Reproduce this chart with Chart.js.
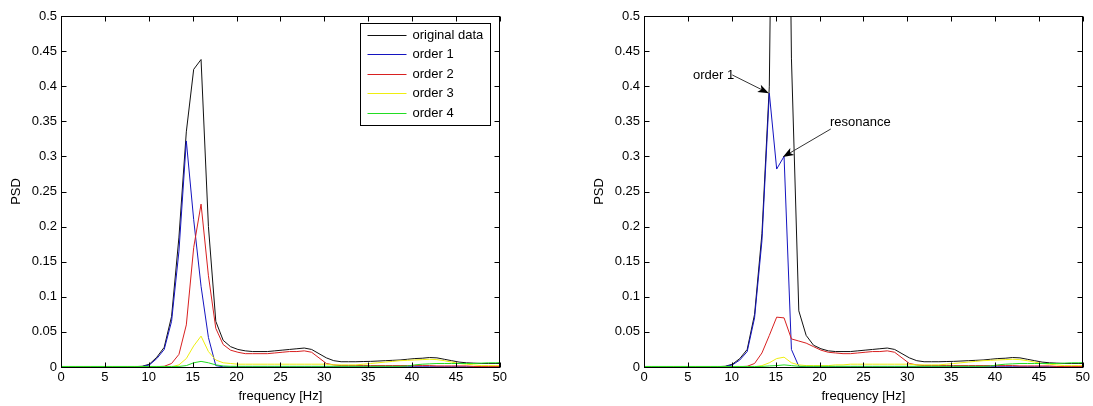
<!DOCTYPE html>
<html><head><meta charset="utf-8">
<script src="https://cdn.jsdelivr.net/npm/chart.js@4.4.1/dist/chart.umd.min.js"></script>
<style>
html,body{margin:0;padding:0;background:#fff;}
body{width:1093px;height:406px;position:relative;overflow:hidden;}
.wrap{position:absolute;top:0;width:510px;height:406px;}
#w1{left:0px}
#w2{left:583px}
</style></head><body>
<div class="wrap" id="w1"><canvas id="c1" width="510" height="406"></canvas></div>
<div class="wrap" id="w2"><canvas id="c2" width="510" height="406"></canvas></div>
<script>
// ---------- data ----------
const frequency = [0,0.84,1.68,2.52,3.36,4.2,5.04,5.88,6.72,7.56,8.4,
  9.24,10.08,10.92,11.76,12.6,13.44,14.28,15.12,15.96,16.8,
  17.64,18.48,19.32,20.16,21.0,21.84,22.68,23.52,24.36,25.2,
  26.04,26.88,27.72,28.56,29.4,30.24,31.08,31.92,32.76,33.6,
  34.44,35.28,36.12,36.96,37.8,38.64,39.48,40.32,41.16,42.0,
  42.84,43.68,44.52,45.36,46.2,47.04,47.88,48.72,49.56,50.4];

const xTickLabels = ['0','5','10','15','20','25','30','35','40','45','50'];
const yTickLabels = ['0','0.05','0.1','0.15','0.2','0.25','0.3','0.35','0.4','0.45','0.5'];
const seriesNames = ['original data','order 1','order 2','order 3','order 4'];

// left panel
const leftOriginal = [0.0005,0.0005,0.0005,0.0005,0.0005,0.0005,0.0005,0.0005,0.0005,0.0005,0.0005,
  0.001,0.004,0.014,0.028,0.072,0.185,0.335,0.424,0.438,0.2,
  0.065,0.038,0.029,0.025,0.023,0.022,0.022,0.022,0.023,0.024,
  0.025,0.026,0.027,0.025,0.019,0.013,0.009,0.0075,0.0075,0.0075,
  0.0078,0.008,0.0085,0.009,0.0095,0.010,0.011,0.012,0.0125,0.0135,
  0.013,0.011,0.009,0.007,0.006,0.0055,0.005,0.005,0.005,0.005];
const leftOrder1 = [0.0003,0.0003,0.0003,0.0003,0.0003,0.0003,0.0003,0.0003,0.0003,0.0003,0.0003,
  0.0005,0.003,0.012,0.025,0.065,0.165,0.322,0.21,0.115,0.042,
  0.002,0.0003,0.0003,0.0003,0.0003,0.0003,0.0003,0.0003,0.0003,0.0003,
  0.0003,0.0003,0.0003,0.0003,0.0003,0.0003,0.0003,0.0003,0.0003,0.0003,
  0.0003,0.0003,0.0003,0.0003,0.0003,0.0003,0.0003,0.0003,0.0003,0.0003,
  0.0003,0.0003,0.0003,0.0003,0.0003,0.0003,0.0003,0.0003,0.0003,0.0003];
const leftOrder2 = [0.0003,0.0003,0.0003,0.0003,0.0003,0.0003,0.0003,0.0003,0.0003,0.0003,0.0003,
  0.0003,0.0003,0.0005,0.001,0.005,0.018,0.06,0.17,0.232,0.13,
  0.055,0.032,0.024,0.021,0.019,0.019,0.019,0.019,0.02,0.021,
  0.022,0.022,0.023,0.021,0.013,0.005,0.003,0.002,0.002,0.002,
  0.002,0.002,0.002,0.002,0.002,0.002,0.002,0.002,0.002,0.002,
  0.0015,0.0015,0.0015,0.0015,0.0015,0.0008,0.0008,0.0008,0.0008,0.0008];
const leftOrder3 = [0.0003,0.0003,0.0003,0.0003,0.0003,0.0003,0.0003,0.0003,0.0003,0.0003,0.0003,
  0.0003,0.0003,0.0003,0.0003,0.0003,0.003,0.012,0.03,0.044,0.022,
  0.01,0.006,0.005,0.004,0.004,0.004,0.004,0.004,0.004,0.004,
  0.004,0.004,0.004,0.004,0.004,0.004,0.003,0.003,0.003,0.003,
  0.004,0.005,0.006,0.007,0.008,0.009,0.0095,0.010,0.0105,0.011,
  0.0105,0.009,0.007,0.005,0.004,0.003,0.002,0.002,0.002,0.002];
const leftOrder4 = [0.0008,0.0008,0.0008,0.0008,0.0008,0.0008,0.0008,0.0008,0.0008,0.0008,0.0008,
  0.0008,0.0008,0.0008,0.0008,0.0008,0.0008,0.002,0.006,0.008,0.006,
  0.003,0.0015,0.001,0.001,0.001,0.001,0.001,0.001,0.001,0.001,
  0.001,0.001,0.001,0.001,0.001,0.001,0.001,0.001,0.001,0.001,
  0.001,0.001,0.001,0.001,0.001,0.001,0.0015,0.003,0.004,0.0045,
  0.005,0.005,0.005,0.005,0.005,0.005,0.0055,0.006,0.006,0.0065];

// right panel
const rightOriginal = [0.0005,0.0005,0.0005,0.0005,0.0005,0.0005,0.0005,0.0005,0.0005,0.0005,0.0005,
  0.001,0.004,0.012,0.025,0.075,0.19,0.40,1.3,1.4,0.44,
  0.08,0.045,0.031,0.026,0.023,0.022,0.022,0.022,0.023,0.024,
  0.025,0.026,0.027,0.025,0.019,0.013,0.009,0.0075,0.0075,0.0075,
  0.0078,0.008,0.0085,0.009,0.0095,0.010,0.011,0.012,0.0125,0.0135,
  0.013,0.011,0.009,0.007,0.006,0.0055,0.005,0.005,0.005,0.005];
const rightOrder1 = [0.0003,0.0003,0.0003,0.0003,0.0003,0.0003,0.0003,0.0003,0.0003,0.0003,0.0003,
  0.0005,0.003,0.01,0.022,0.07,0.18,0.39,0.282,0.30,0.025,
  0.001,0.0003,0.0003,0.0003,0.0003,0.0003,0.0003,0.0003,0.0003,0.0003,
  0.0003,0.0003,0.0003,0.0003,0.0003,0.0003,0.0003,0.0003,0.0003,0.0003,
  0.0003,0.0003,0.0003,0.0003,0.0003,0.0003,0.0003,0.0003,0.0003,0.0003,
  0.0003,0.0003,0.0003,0.0003,0.0003,0.0003,0.0003,0.0003,0.0003,0.0003];
const rightOrder2 = [0.0003,0.0003,0.0003,0.0003,0.0003,0.0003,0.0003,0.0003,0.0003,0.0003,0.0003,
  0.0003,0.0003,0.0005,0.001,0.005,0.02,0.045,0.071,0.07,0.04,
  0.037,0.034,0.029,0.024,0.021,0.02,0.019,0.019,0.02,0.021,
  0.022,0.022,0.023,0.021,0.013,0.005,0.003,0.002,0.002,0.002,
  0.002,0.002,0.002,0.002,0.002,0.002,0.002,0.002,0.002,0.002,
  0.0015,0.0015,0.0015,0.0015,0.0015,0.0008,0.0008,0.0008,0.0008,0.0008];
const rightOrder3 = [0.0003,0.0003,0.0003,0.0003,0.0003,0.0003,0.0003,0.0003,0.0003,0.0003,0.0003,
  0.0003,0.0003,0.0003,0.0003,0.0003,0.002,0.006,0.012,0.014,0.006,
  0.003,0.002,0.002,0.002,0.002,0.003,0.003,0.004,0.004,0.004,
  0.004,0.004,0.004,0.004,0.004,0.004,0.003,0.003,0.003,0.003,
  0.004,0.005,0.006,0.007,0.008,0.009,0.0095,0.010,0.0105,0.011,
  0.0105,0.009,0.007,0.005,0.004,0.003,0.002,0.002,0.002,0.002];
const rightOrder4 = [0.0008,0.0008,0.0008,0.0008,0.0008,0.0008,0.0008,0.0008,0.0008,0.0008,0.0008,
  0.0008,0.0008,0.0008,0.0008,0.0008,0.0008,0.0015,0.002,0.003,0.002,
  0.001,0.001,0.001,0.001,0.001,0.001,0.001,0.001,0.001,0.001,
  0.001,0.001,0.001,0.001,0.001,0.001,0.001,0.001,0.001,0.001,
  0.001,0.001,0.001,0.001,0.001,0.001,0.0015,0.003,0.004,0.0045,
  0.005,0.005,0.005,0.005,0.005,0.005,0.0055,0.006,0.006,0.0065];

// annotations on right panel (data coordinates: [frequency, PSD])
const rightNotes = [
  {text:'order 1',   textAt:[5.59,0.416], from:[10.06,0.416], to:[14.23,0.39]},
  {text:'resonance', textAt:[21.2,0.349], from:[21.28,0.339], to:[15.82,0.299]}
];

// ---------- styles ----------
const seriesColors = ['#111111','#1414c0','#d82020','#eeee10','#22dd22'];
const FONT = "'Liberation Sans', Arial, Helvetica, sans-serif";

function makeBoxPlugin(showLegend, notes){
  return {
    id:'matlabBox',
    afterDatasetsDraw(chart){
      const {ctx, chartArea:a, scales:{x,y}} = chart;
      ctx.save();
      ctx.strokeStyle='#000'; ctx.lineWidth=1;
      const L=Math.round(a.left)+0.5, R=Math.round(a.right)-0.5, T=Math.round(a.top)+0.5, B=Math.round(a.bottom)+0.5;
      ctx.strokeRect(L,T,R-L,B-T);
      const tl=5;
      ctx.beginPath();
      x.ticks.forEach(t=>{
        const px=Math.round(x.getPixelForValue(t.value))+0.5;
        ctx.moveTo(px,B); ctx.lineTo(px,B-tl);
        ctx.moveTo(px,T); ctx.lineTo(px,T+tl);
      });
      y.ticks.forEach(t=>{
        const py=Math.round(y.getPixelForValue(t.value))+0.5;
        ctx.moveTo(L,py); ctx.lineTo(L+tl,py);
        ctx.moveTo(R,py); ctx.lineTo(R-tl,py);
      });
      ctx.stroke();

      if(showLegend){
        const bw=130,bh=102;
        const bx=Math.round(a.right)-10-bw+0.5, by=Math.round(a.top)+7+0.5;
        ctx.fillStyle='#fff'; ctx.fillRect(bx,by,bw,bh);
        ctx.strokeStyle='#000'; ctx.strokeRect(bx,by,bw,bh);
        ctx.font='13px '+FONT; ctx.textBaseline='middle'; ctx.textAlign='left';
        chart.data.datasets.forEach((ds,i)=>{
          const ry=Math.round(by+11+i*19.5)+0.5;
          ctx.strokeStyle=ds.borderColor; ctx.beginPath();
          ctx.moveTo(bx+7,ry); ctx.lineTo(bx+46,ry); ctx.stroke();
          ctx.fillStyle='#000'; ctx.fillText(ds.label,bx+52,ry);
        });
      }
      if(notes){
        ctx.font='13px '+FONT; ctx.textBaseline='middle'; ctx.textAlign='left';
        notes.forEach(n=>{
          const tx=x.getPixelForValue(n.textAt[0]), ty=y.getPixelForValue(n.textAt[1]);
          ctx.fillStyle='#000'; ctx.fillText(n.text,tx,ty);
          const x0=x.getPixelForValue(n.from[0]), y0=y.getPixelForValue(n.from[1]);
          const x1=x.getPixelForValue(n.to[0]), y1=y.getPixelForValue(n.to[1]);
          const ang=Math.atan2(y1-y0,x1-x0), hl=11, hw=4;
          ctx.strokeStyle='#333'; ctx.lineWidth=1;
          ctx.beginPath(); ctx.moveTo(x0,y0); ctx.lineTo(x1-Math.cos(ang)*hl*0.7,y1-Math.sin(ang)*hl*0.7); ctx.stroke();
          ctx.fillStyle='#000'; ctx.beginPath();
          ctx.moveTo(x1,y1);
          ctx.lineTo(x1-Math.cos(ang)*hl+Math.sin(ang)*hw, y1-Math.sin(ang)*hl-Math.cos(ang)*hw);
          ctx.lineTo(x1-Math.cos(ang)*hl*0.75, y1-Math.sin(ang)*hl*0.75);
          ctx.lineTo(x1-Math.cos(ang)*hl-Math.sin(ang)*hw, y1-Math.sin(ang)*hl+Math.cos(ang)*hw);
          ctx.closePath(); ctx.fill();
        });
      }
      ctx.restore();
    }
  };
}

function makeChart(id, series, showLegend, notes){
  const datasets = series.map((vals,i)=>({
    label: seriesNames[i],
    data: frequency.map((f,k)=>({x:f,y:vals[k]})),
    borderColor: seriesColors[i],
    backgroundColor: seriesColors[i],
    borderWidth: 1,
    pointRadius: 0,
    fill: false,
    tension: 0,
    order: series.length-1-i
  }));
  const tickFont = {family:FONT, size:13};
  return new Chart(document.getElementById(id), {
    type:'line',
    data:{datasets},
    options:{
      responsive:false, animation:false, devicePixelRatio:1,
      layout:{padding:{left:0,right:8,top:16,bottom:0}},
      plugins:{legend:{display:false}, tooltip:{enabled:false}},
      scales:{
        x:{type:'linear', min:0, max:50,
          ticks:{stepSize:5, padding:3, color:'#000', font:tickFont, maxRotation:0, autoSkip:false,
            callback:(v)=>xTickLabels[Math.round(v/5)]},
          grid:{display:false, drawTicks:false}, border:{display:false},
          title:{display:true, text:'frequency [Hz]', color:'#000', font:tickFont, padding:{top:0,bottom:2}},
          afterFit:(s)=>{s.height=39;}
        },
        y:{type:'linear', min:0, max:0.5,
          ticks:{stepSize:0.05, padding:4, color:'#000', font:tickFont, autoSkip:false,
            callback:(v)=>yTickLabels[Math.round(v/0.05)]},
          grid:{display:false, drawTicks:false}, border:{display:false},
          title:{display:true, text:'PSD', color:'#000', font:tickFont, padding:{top:9,bottom:0}},
          afterFit:(s)=>{s.width=61;}
        }
      }
    },
    plugins:[makeBoxPlugin(showLegend, notes)]
  });
}

makeChart('c1',[leftOriginal,leftOrder1,leftOrder2,leftOrder3,leftOrder4],true,null);
makeChart('c2',[rightOriginal,rightOrder1,rightOrder2,rightOrder3,rightOrder4],false,rightNotes);
</script>
</body></html>
